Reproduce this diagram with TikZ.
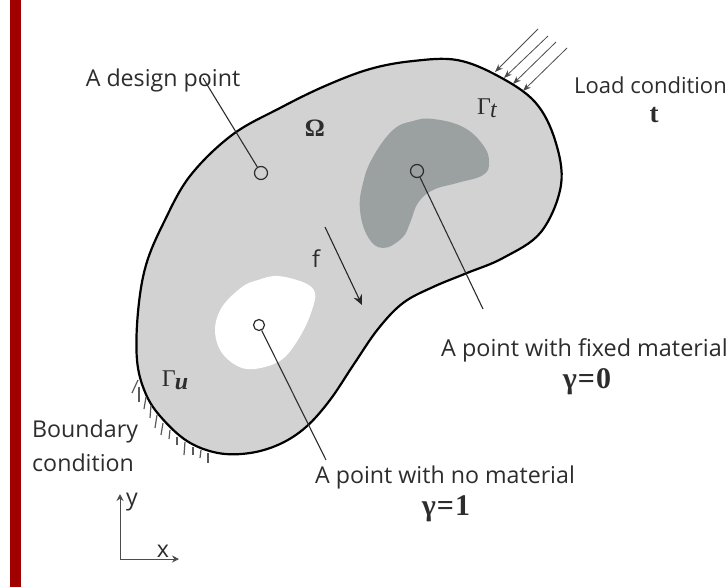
\documentclass[tikz,border=0pt]{standalone}
\usepackage{fontspec}
\setmainfont{Open Sans}
\newfontfamily\mathish{Liberation Serif}
\usetikzlibrary{arrows.meta}
\definecolor{barred}{RGB}{160,0,0}
\definecolor{bodygray}{RGB}{210,210,210}
\definecolor{fixedgray}{RGB}{155,160,160}
\definecolor{txt}{RGB}{45,45,45}
\tikzset{
  lbl/.style={font=\fontsize{23.2}{26}\selectfont,text=txt,inner sep=0pt,anchor=center},
  sym/.style={font=\mathish\bfseries\fontsize{27}{30}\selectfont,text=txt,inner sep=0pt},
  eqn/.style={font=\mathish\bfseries\fontsize{30}{32}\selectfont,text=txt,inner sep=0pt},
  gam/.style={font=\mathish\fontsize{24}{26}\selectfont,text=txt,inner sep=0pt},
  pt/.style={circle,draw=txt,line width=1.2pt,minimum size=13pt,inner sep=0pt},
  leader/.style={draw=txt,line width=1.1pt},
  hatch/.style={draw=black!65,line width=1.2pt},
  load/.style={draw=black!70,line width=0.8pt,-{Stealth[length=8pt,width=6pt]}},
  axis/.style={draw=black!70,line width=1pt,-{Stealth[length=7pt,width=7pt]}}
}
\begin{document}
\begin{tikzpicture}[x=1pt,y=-1pt]
\useasboundingbox (0,0) rectangle (728,587);
\fill[white] (0,0) rectangle (728,587);
\fill[barred] (10,0) rectangle (21,587);
% body
\draw[fill=bodygray,draw=black,line width=2.2pt] plot[smooth cycle,tension=0.6] coordinates {
 (137,360) (138,312) (146,265) (164,222) (190,176) (232,135) (280,108) (325,86) (370,69) (413,61) (457,60)
 (498,76) (535,102) (555,140) (561,185) (541,232) (503,258) (467,273) (433,287) (403,303) (378,329)
 (354,364) (330,400) (306,427) (280,444) (250,453) (218,453) (187,441) (160,416) (145,392)};
% regions
\fill[fixedgray] plot[smooth cycle,tension=0.7] coordinates {
 (433,119) (463,127) (483,145) (489,162) (483,175) (457,183) (433,190) (418,203) (410,223) (402,238)
 (383,248) (368,237) (360,210) (363,183) (373,157) (393,130) (413,121)};
\fill[white] plot[smooth cycle,tension=0.6] coordinates {
 (278,276) (305,283) (315,293) (312,310) (302,333) (285,357) (265,367) (242,368) (222,353) (215,330) (222,307) (242,287) (258,280)};
% hatching
\foreach \a/\b/\c/\d in {138/380/132/393, 139/387/139/402, 146/397/144/409, 151/405/150/418, 157/415/155/428, 163/423/161/435, 170/430/169/439, 177/437/177/445, 185/442/184/455, 193/447/193/455, 201/450/200/458, 208/453/208/463}
  \draw[hatch] (\a,\b) -- (\c,\d);
% load
\coordinate (l1a) at (538,29); \coordinate (l1b) at (495,72);
\coordinate (l2a) at (548,36); \coordinate (l2b) at (504,78);
\coordinate (l3a) at (556,42); \coordinate (l3b) at (513,84);
\coordinate (l4a) at (567,48); \coordinate (l4b) at (523,91);
\draw[load] (l1a) -- (l1b);
\draw[load] (l2a) -- (l2b);
\draw[load] (l3a) -- (l3b);
\draw[load] (l4a) -- (l4b);
% points and leaders
\node[pt,fill=none] (pd) at (261,173) {};
\node[pt,fill=none] (pf) at (417,171) {};
\node[pt,fill=none,minimum size=11pt] (pn) at (259,325) {};
\coordinate (ld) at (203,78);
\coordinate (lf) at (483,309);
\coordinate (ln) at (326,460);
\draw[leader] (ld) -- (pd);
\draw[leader] (lf) -- (pf);
\draw[leader] (ln) -- (pn);
% f arrow
\coordinate (fa) at (325,227); \coordinate (fb) at (362,305);
\draw[draw=black!85,line width=1.1pt,-{Stealth[length=10pt,width=9pt]}] (fa) -- (fb);
% axes
\coordinate (o) at (120,559); \coordinate (ax) at (179,559); \coordinate (ay) at (120,494);
\draw[axis] (o) -- (ax);
\draw[axis] (o) -- (ay);
% labels
\node[lbl] (t1) at (163,80) {A design point};
\node[lbl,anchor=west,font=\fontsize{22}{26}\selectfont] (t2) at (574,85) {Load condition};
\node[sym] (t3) at (654,115) {t};
\node[lbl,anchor=west,font=\fontsize{23.4}{26}\selectfont] (t4) at (441,350) {A point with fixed material};
\node[eqn] (t5) at (587,382) {γ\kern1pt=\kern1pt0};
\node[lbl] (t6) at (445,477) {A point with no material};
\node[eqn] (t7) at (446,509) {γ\kern1pt=\kern1pt1};
\node[lbl,anchor=west] (t8) at (32,431) {Boundary};
\node[lbl,anchor=west] (t9) at (32,463) {condition};
\node[lbl] (t10) at (132,502) {y};
\node[lbl] (t11) at (163,551) {x};
\node[lbl] (t12) at (316,259) {f};
\node[sym,font=\mathish\bfseries\fontsize{25}{28}\selectfont] (t13) at (315,128) {Ω};
\node[gam] (t14) at (487,108) {Γ\kern-1pt\raisebox{-3pt}{\itshape t}};
\node[gam] (t15) at (175,380) {Γ\kern-1pt\raisebox{-3pt}{\bfseries\itshape u}};
\end{tikzpicture}
\end{document}
